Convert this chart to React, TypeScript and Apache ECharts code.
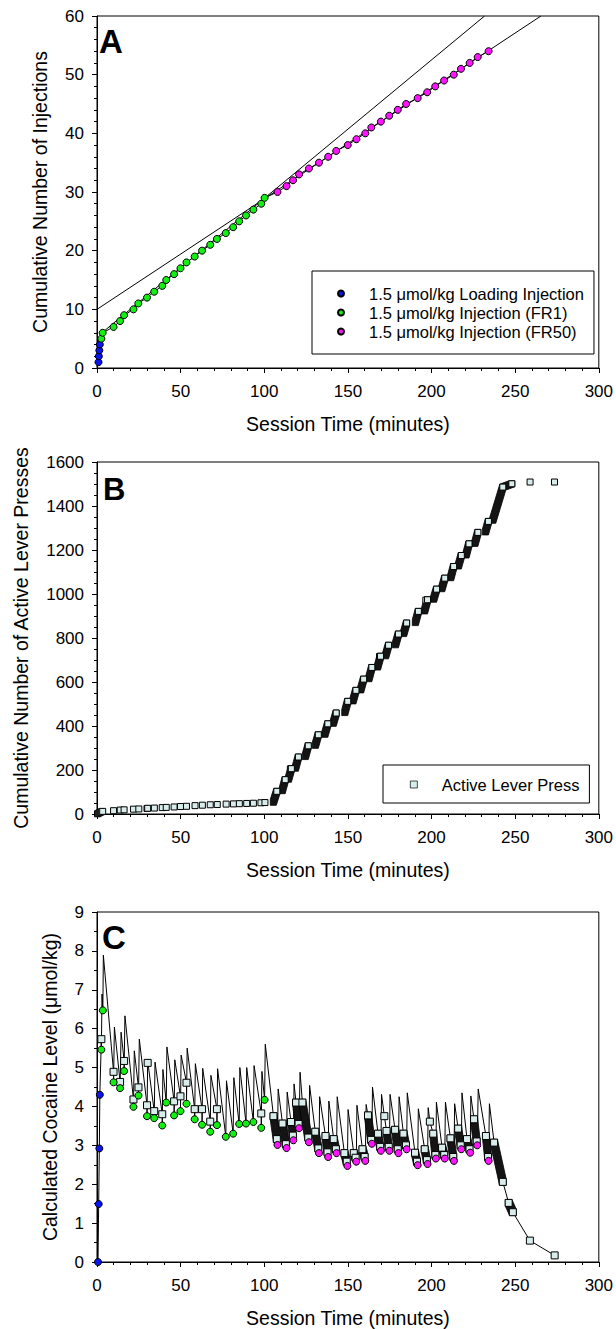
import React, { useEffect, useRef } from "react";
import * as echarts from "echarts";

const FONT = "'Liberation Sans', Arial, Helvetica, sans-serif";

// ---------- Axis / legend texts ----------
const xTitle = "Session Time (minutes)";
const yTitleA = "Cumulative Number of Injections";
const yTitleB = "Cumulative Number of Active Lever Presses";
const yTitleC = "Calculated Cocaine Level (\u03bcmol/kg)";
const nameLoading = "1.5 \u03bcmol/kg Loading Injection";
const nameFR1 = "1.5 \u03bcmol/kg Injection (FR1)";
const nameFR50 = "1.5 \u03bcmol/kg Injection (FR50)";
const namePress = "Active Lever Press";

// ---------- Panel A : cumulative injections [min, count] ----------
const loadingA = [[0.9, 1], [1.1, 2], [1.4, 3], [1.7, 4]];
const fr1A = [
  [2.6, 5], [3.4, 6], [9.9, 7], [13.8, 8], [16.2, 9], [21.8, 10], [24.7, 11], [29.9, 12],
  [34.2, 13], [39.0, 14], [41.4, 15], [46.1, 16], [49.9, 17], [53.5, 18], [58.4, 19],
  [62.8, 20], [67.7, 21], [71.7, 22], [77.0, 23], [81.4, 24], [85.0, 25], [89.1, 26],
  [93.5, 27], [98.2, 28], [100.2, 29],
];
const fr50A = [
  [107.9, 30], [113.3, 31], [117.2, 32], [120.8, 33], [126.7, 34], [132.7, 35], [138.2, 36],
  [143.0, 37], [149.9, 38], [155.1, 39], [160.4, 40], [164.0, 41], [169.7, 42], [174.7, 43],
  [179.8, 44], [184.8, 45], [191.7, 46], [197.4, 47], [202.2, 48], [207.5, 49], [213.3, 50],
  [217.6, 51], [222.8, 52], [227.6, 53], [234.1, 54],
];
const fitLineFR1 = [[3.4, 6.1], [231.7, 60]];
const fitLineFR50 = [[0, 10], [265.4, 60]];

// ---------- Panel B : cumulative active lever presses ----------
const pressesB = [
  [0.3, 1], [0.8, 3], [1.4, 6], [2.0, 8], [2.6, 10], [3.4, 12], [9.9, 15], [13.9, 18],
  [16.2, 19], [21.8, 22], [25.0, 23], [29.9, 25], [30.3, 26], [34.3, 27], [39.0, 29],
  [41.4, 30], [46.1, 32], [49.9, 34], [53.5, 35], [58.6, 38], [63.0, 40], [67.7, 42],
  [71.9, 43], [77.2, 45], [81.6, 46], [85.1, 47], [89.5, 48], [93.5, 49], [98.0, 51],
  [100.4, 52], [115.6, 205], [168.9, 716], [196.6, 972], [258.9, 1509], [273.5, 1509],
];
// FR50 press runs: [start min, start count, end min, end count]
const runsB = [
  [105.4, 53, 107.5, 103], [110.7, 106, 112.5, 156], [114.4, 158, 116.2, 206],
  [118.6, 208, 120.4, 259], [124.5, 261, 126.3, 310], [130.5, 312, 132.3, 360],
  [136.2, 362, 138.0, 410], [141.2, 412, 143.0, 459], [148.1, 461, 149.9, 512],
  [153.0, 514, 154.8, 562], [157.6, 564, 159.4, 613], [162.5, 615, 164.3, 666],
  [167.7, 668, 169.5, 717], [172.5, 719, 174.3, 767], [178.4, 769, 180.2, 818],
  [183.3, 820, 185.1, 868], [190.3, 870, 192.1, 921], [195.8, 923, 197.6, 974],
  [201.2, 976, 203.0, 1022], [206.1, 1024, 207.9, 1072], [211.4, 1074, 213.2, 1125],
  [216.0, 1127, 217.8, 1175], [220.6, 1177, 222.4, 1228], [225.9, 1230, 227.7, 1280],
  [232.2, 1282, 234.0, 1330], [236.6, 1335, 242.6, 1486], [243.4, 1488, 248.0, 1501],
];

// ---------- Panel C : calculated cocaine level ----------
const levelCurveC = [
  [0, 0], [0.6, 0], [1.0, 1.49], [1.4, 2.92], [1.7, 4.3],
  [2.6, 5.73], [2.6, 5.46], [3.0, 6.89], [3.5, 6.47], [3.8, 7.89],
  [9.9, 4.89], [9.9, 4.62], [10.4, 6.04],
  [13.8, 4.63], [13.8, 4.47], [14.4, 5.91],
  [16.2, 5.17], [16.2, 4.91], [16.7, 6.33],
  [21.8, 4.18], [21.8, 3.99], [22.3, 5.43],
  [24.8, 4.49], [24.8, 4.28], [25.3, 5.73],
  [29.9, 4.03], [29.9, 3.75], [30.3, 5.17],
  [34.2, 3.88], [34.2, 3.70], [34.7, 5.14],
  [39.0, 3.80], [39.0, 3.51], [39.4, 4.95],
  [41.4, 4.10], [41.8, 5.53],
  [46.1, 4.13], [46.1, 3.77], [46.5, 5.20],
  [49.9, 4.26], [49.9, 3.88], [50.3, 5.32],
  [53.5, 4.61], [53.5, 4.07], [53.9, 5.50],
  [58.4, 3.93], [58.4, 3.67], [58.8, 5.10],
  [62.8, 3.93], [62.8, 3.53], [63.2, 4.98],
  [67.7, 3.61], [67.7, 3.35], [68.1, 4.80],
  [71.7, 3.93], [71.7, 3.52], [72.1, 4.97],
  [77.0, 3.22], [77.4, 4.66],
  [81.4, 3.30], [81.8, 4.74],
  [85.0, 3.55], [85.4, 5.00],
  [89.1, 3.56], [89.5, 5.00],
  [93.5, 3.60], [93.9, 5.05],
  [98.2, 3.82], [98.2, 3.45], [98.6, 4.90],
  [100.2, 4.17], [100.6, 5.60],
  [105.5, 3.75], [107.5, 3.16], [107.9, 3.01], [108.3, 4.45],
  [110.9, 3.56], [112.9, 3.03], [113.3, 2.93], [113.7, 4.37],
  [116.0, 3.60], [117.1, 3.25], [117.4, 3.13], [117.8, 4.58],
  [119.0, 4.10], [120.5, 3.55], [120.8, 3.44], [121.4, 4.88],
  [122.8, 4.10], [126.3, 3.20], [126.7, 3.08], [127.1, 4.54],
  [130.5, 3.35], [132.3, 2.92], [132.7, 2.80], [133.1, 4.25],
  [136.6, 3.24], [137.8, 2.82], [138.2, 2.70], [138.6, 4.14],
  [141.5, 3.16], [142.8, 2.90], [143.2, 2.80], [143.6, 4.25],
  [147.9, 2.80], [149.3, 2.58], [149.7, 2.47], [150.1, 3.92],
  [153.5, 2.80], [154.6, 2.68], [155.0, 2.58], [155.4, 4.03],
  [158.7, 2.90], [160.0, 2.70], [160.4, 2.60], [160.9, 4.05],
  [162.0, 3.77], [163.9, 3.14], [164.3, 3.04], [164.7, 4.50],
  [168.0, 3.30], [169.3, 2.96], [169.7, 2.86], [170.1, 4.31],
  [171.8, 3.75],
  [173.1, 3.37], [174.4, 2.96], [174.8, 2.86], [175.2, 4.31],
  [178.2, 3.40], [179.8, 2.90], [180.2, 2.80], [180.6, 4.25],
  [183.2, 3.30], [184.7, 3.00], [185.1, 2.90], [185.5, 4.35],
  [190.1, 2.81], [191.3, 2.58], [191.7, 2.49], [192.1, 3.94],
  [195.9, 2.90], [197.2, 2.62], [197.6, 2.52], [198.0, 3.97],
  [199.0, 3.61],
  [201.0, 3.30], [202.3, 2.75], [202.6, 2.66], [202.9, 4.11],
  [206.3, 2.94], [207.6, 2.75], [207.9, 2.66], [208.3, 4.11],
  [211.3, 3.18], [213.0, 2.70], [213.4, 2.60], [213.8, 4.07],
  [215.9, 3.43], [217.4, 3.00], [217.8, 2.90], [218.2, 4.35],
  [221.2, 3.16], [222.7, 2.90], [223.1, 2.81], [223.5, 4.27],
  [225.4, 3.67], [227.0, 3.10], [227.3, 3.00], [227.9, 4.45],
  [232.5, 3.24], [233.8, 2.70], [234.1, 2.60], [234.6, 4.07],
  [237.4, 3.07], [242.6, 2.06], [246.1, 1.52], [248.6, 1.28], [258.8, 0.55], [273.6, 0.17],
];
// press runs within the level curve: [start min, start level, end min, end level]
const runsC = [
  [105.5, 3.75, 107.5, 3.16], [110.9, 3.56, 112.9, 3.03], [116.0, 3.60, 117.1, 3.25],
  [119.0, 4.10, 120.5, 3.55], [122.8, 4.10, 126.3, 3.20], [130.5, 3.35, 132.3, 2.92],
  [136.6, 3.24, 137.8, 2.82], [141.5, 3.16, 142.8, 2.90], [147.9, 2.80, 149.3, 2.58],
  [153.5, 2.80, 154.6, 2.68], [158.7, 2.90, 160.0, 2.70], [162.0, 3.77, 163.9, 3.14],
  [168.0, 3.30, 169.3, 2.96], [173.1, 3.37, 174.4, 2.96], [178.2, 3.40, 179.8, 2.90],
  [183.2, 3.30, 184.7, 3.00], [190.1, 2.81, 191.3, 2.58], [195.9, 2.90, 197.2, 2.62],
  [201.0, 3.30, 202.3, 2.75], [206.3, 2.94, 207.6, 2.75], [211.3, 3.18, 213.0, 2.70],
  [215.9, 3.43, 217.4, 3.00], [221.2, 3.16, 222.7, 2.90], [225.4, 3.67, 227.0, 3.10],
  [232.5, 3.24, 233.8, 2.70], [237.4, 3.07, 242.6, 2.06], [246.1, 1.52, 248.6, 1.28],
];
const pressesC = [
  [2.6, 5.73], [9.9, 4.89], [13.8, 4.63], [16.2, 5.17], [21.8, 4.18], [24.8, 4.49],
  [29.9, 4.03], [30.3, 5.12], [34.2, 3.88], [39.0, 3.80], [46.1, 4.13], [49.9, 4.26],
  [53.5, 4.61], [58.4, 3.93], [62.8, 3.93], [67.7, 3.61], [71.7, 3.93], [98.2, 3.82],
  [171.8, 3.75], [199.0, 3.61], [258.8, 0.55], [273.6, 0.17],
];
const loadingC = [[0.6, 0], [1.0, 1.49], [1.4, 2.92], [1.7, 4.3]];
const fr1C = [
  [2.6, 5.46], [3.5, 6.47], [9.9, 4.62], [13.8, 4.47], [16.2, 4.91], [21.8, 3.99],
  [24.8, 4.28], [29.9, 3.75], [34.2, 3.70], [39.0, 3.51], [41.4, 4.10], [46.1, 3.77],
  [49.9, 3.88], [53.5, 4.07], [58.4, 3.67], [62.8, 3.53], [67.7, 3.35], [71.7, 3.52],
  [77.0, 3.22], [81.4, 3.30], [85.0, 3.55], [89.1, 3.56], [93.5, 3.60], [98.2, 3.45],
  [100.2, 4.17],
];
const fr50C = [
  [107.9, 3.01], [113.3, 2.93], [117.4, 3.13], [120.8, 3.44], [126.7, 3.08], [132.7, 2.80],
  [138.2, 2.70], [143.2, 2.80], [149.7, 2.47], [155.0, 2.58], [160.4, 2.60], [164.3, 3.04],
  [169.7, 2.86], [174.8, 2.86], [180.2, 2.80], [185.1, 2.90], [191.7, 2.49], [197.6, 2.52],
  [202.6, 2.66], [207.9, 2.66], [213.4, 2.60], [217.8, 2.90], [223.1, 2.81], [227.3, 3.00],
  [234.1, 2.60],
];

// ---------- styles ----------
const BLUE = "#0a14f0";
const GREEN = "#12f012";
const MAGENTA = "#ff14ff";
const SQUARE_FILL = "#d8ecec";

function hull(pts: number[][]) {
  const p = pts.slice().sort((a, b) => a[0] - b[0] || a[1] - b[1]);
  const cross = (o: number[], a: number[], b: number[]) =>
    (a[0] - o[0]) * (b[1] - o[1]) - (a[1] - o[1]) * (b[0] - o[0]);
  const lower: number[][] = [];
  for (const q of p) {
    while (lower.length >= 2 && cross(lower[lower.length - 2], lower[lower.length - 1], q) <= 0) lower.pop();
    lower.push(q);
  }
  const upper: number[][] = [];
  for (let i = p.length - 1; i >= 0; i--) {
    const q = p[i];
    while (upper.length >= 2 && cross(upper[upper.length - 2], upper[upper.length - 1], q) <= 0) upper.pop();
    upper.push(q);
  }
  upper.pop();
  lower.pop();
  return lower.concat(upper);
}

const runRenderer = (half: number) => (params: any, api: any) => {
  const a = api.coord([api.value(0), api.value(1)]);
  const b = api.coord([api.value(2), api.value(3)]);
  const corners: number[][] = [];
  for (const c of [a, b]) {
    corners.push([c[0] - half, c[1] - half], [c[0] + half, c[1] - half], [c[0] + half, c[1] + half], [c[0] - half, c[1] + half]);
  }
  return {
    type: "polygon",
    shape: { points: hull(corners) },
    style: { fill: "#141414", stroke: "#000", lineWidth: 0.8 },
  };
};

const GRID_LEFT = 97;
const GRID_W = 505;
const GRID_H = 352;
const GRID_TOPS = [16, 462, 912];

const plain = (v: number) => String(v);

const xAxisFor = (gridIndex: number) => ({
  type: "value",
  gridIndex,
  min: 0,
  max: 300,
  interval: 50,
  name: xTitle,
  nameLocation: "middle",
  nameGap: 46,
  nameTextStyle: { fontSize: 19.5, fontFamily: FONT, color: "#000" },
  axisLine: { show: true, onZero: false, lineStyle: { color: "#000", width: 1 } },
  axisTick: { show: true, length: 5, lineStyle: { color: "#000" } },
  minorTick: { show: true, splitNumber: 5, length: 3, lineStyle: { color: "#000" } },
  splitLine: { show: false },
  minorSplitLine: { show: false },
  axisLabel: { fontSize: 17, fontFamily: FONT, color: "#000", margin: 15, formatter: plain },
});

const yAxisFor = (gridIndex: number, max: number, interval: number, minorSplit: number, name: string, gap: number) => ({
  type: "value",
  gridIndex,
  min: 0,
  max,
  interval,
  name,
  nameLocation: "middle",
  nameGap: gap,
  nameTextStyle: { fontSize: 19.5, fontFamily: FONT, color: "#000" },
  axisLine: { show: true, onZero: false, lineStyle: { color: "#000", width: 1 } },
  axisTick: { show: true, length: 5, lineStyle: { color: "#000" } },
  minorTick: { show: true, splitNumber: minorSplit, length: 3, lineStyle: { color: "#000" } },
  splitLine: { show: false },
  minorSplitLine: { show: false },
  axisLabel: { fontSize: 17, fontFamily: FONT, color: "#000", margin: 13, formatter: plain },
});

const circle = (color: string, size = 7) => ({
  symbol: "circle",
  symbolSize: size,
  itemStyle: { color, borderColor: "#000", borderWidth: 1, opacity: 1 },
});
const square = (size = 6) => ({
  symbol: "rect",
  symbolSize: size,
  itemStyle: { color: SQUARE_FILL, borderColor: "#000", borderWidth: 1, opacity: 1 },
});

const legendBase = {
  orient: "vertical",
  itemWidth: 46,
  itemHeight: 6,
  itemGap: 0,
  selectedMode: false,
  borderColor: "#000",
  borderWidth: 1,
  backgroundColor: "#fff",
  symbolKeepAspect: true,
  textStyle: { fontSize: 16.5, lineHeight: 19, fontFamily: FONT, color: "#000" },
};

const option: any = {
  animation: false,
  backgroundColor: "#fff",
  title: [
    { text: "A", left: 99, top: 25, padding: 0, textStyle: { fontSize: 33, fontWeight: "bold", fontFamily: FONT, color: "#000" } },
    { text: "B", left: 103, top: 474, padding: 0, textStyle: { fontSize: 31, fontWeight: "bold", fontFamily: FONT, color: "#000" } },
    { text: "C", left: 102, top: 921, padding: 0, textStyle: { fontSize: 33, fontWeight: "bold", fontFamily: FONT, color: "#000" } },
  ],
  legend: [
    {
      ...legendBase,
      data: [nameLoading, nameFR1, nameFR50],
      left: 312,
      top: 271,
      padding: [13, 10, 13, 25],
    },
    {
      ...legendBase,
      data: [namePress],
      icon: "path://M0 0H10V10H0Z",
      itemHeight: 7,
      itemStyle: { color: SQUARE_FILL, borderColor: "#000", borderWidth: 0.7 },
      left: 383,
      top: 765,
      padding: [10, 10, 9, 27],
    },
  ],
  grid: GRID_TOPS.map((top) => ({
    left: GRID_LEFT,
    top,
    width: GRID_W,
    height: GRID_H,
    show: true,
    borderColor: "#000",
    borderWidth: 1,
    backgroundColor: "transparent",
  })),
  xAxis: [xAxisFor(0), xAxisFor(1), xAxisFor(2)],
  yAxis: [
    yAxisFor(0, 60, 10, 5, yTitleA, 47),
    yAxisFor(1, 1600, 200, 4, yTitleB, 66),
    yAxisFor(2, 9, 1, 2, yTitleC, 37),
  ],
  series: [
    // ----- A -----
    {
      name: "A record", type: "line", xAxisIndex: 0, yAxisIndex: 0, z: 1,
      data: [...loadingA, ...fr1A, ...fr50A], showSymbol: false, symbol: "none",
      lineStyle: { color: "#000", width: 1 },
    },
    {
      name: "A fit FR1", type: "line", xAxisIndex: 0, yAxisIndex: 0, z: 1,
      data: fitLineFR1, showSymbol: false, symbol: "none", lineStyle: { color: "#000", width: 1 },
    },
    {
      name: "A fit FR50", type: "line", xAxisIndex: 0, yAxisIndex: 0, z: 1,
      data: fitLineFR50, showSymbol: false, symbol: "none", lineStyle: { color: "#000", width: 1 },
    },
    { name: nameLoading, type: "scatter", xAxisIndex: 0, yAxisIndex: 0, z: 4, data: loadingA, ...circle(BLUE) },
    { name: nameFR1, type: "scatter", xAxisIndex: 0, yAxisIndex: 0, z: 4, data: fr1A, ...circle(GREEN) },
    { name: nameFR50, type: "scatter", xAxisIndex: 0, yAxisIndex: 0, z: 4, data: fr50A, ...circle(MAGENTA) },
    // ----- B -----
    {
      name: "B runs", type: "custom", xAxisIndex: 1, yAxisIndex: 1, z: 2,
      renderItem: runRenderer(3), data: runsB, encode: { x: [0, 2], y: [1, 3] },
    },
    {
      name: namePress, type: "scatter", xAxisIndex: 1, yAxisIndex: 1, z: 3,
      data: [...pressesB, ...runsB.map((r) => [r[2], r[3]])], ...square(6),
    },
    // ----- C -----
    {
      name: "C level", type: "line", xAxisIndex: 2, yAxisIndex: 2, z: 1,
      data: levelCurveC, showSymbol: false, symbol: "none", lineStyle: { color: "#000", width: 1 },
    },
    {
      name: "C runs", type: "custom", xAxisIndex: 2, yAxisIndex: 2, z: 2,
      renderItem: runRenderer(3.3), data: runsC, encode: { x: [0, 2], y: [1, 3] },
    },
    {
      name: "C presses", type: "scatter", xAxisIndex: 2, yAxisIndex: 2, z: 3,
      data: [...pressesC, ...runsC.map((r) => [r[0], r[1]]), ...runsC.map((r) => [r[2], r[3]])], ...square(7),
    },
    { name: "C loading", type: "scatter", xAxisIndex: 2, yAxisIndex: 2, z: 4, data: loadingC, ...circle(BLUE) },
    { name: "C FR1", type: "scatter", xAxisIndex: 2, yAxisIndex: 2, z: 4, data: fr1C, ...circle(GREEN) },
    { name: "C FR50", type: "scatter", xAxisIndex: 2, yAxisIndex: 2, z: 4, data: fr50C, ...circle(MAGENTA) },
  ],
};

export default function App() {
  const ref = useRef<HTMLDivElement>(null);
  useEffect(() => {
    if (!ref.current) return;
    const chart = echarts.init(ref.current, null, { renderer: "svg" });
    chart.setOption(option);
    return () => chart.dispose();
  }, []);
  return (
    <div
      ref={ref}
      style={{ position: "absolute", left: 0, top: 0, width: 616, height: 1329, background: "#fff" }}
    />
  );
}
